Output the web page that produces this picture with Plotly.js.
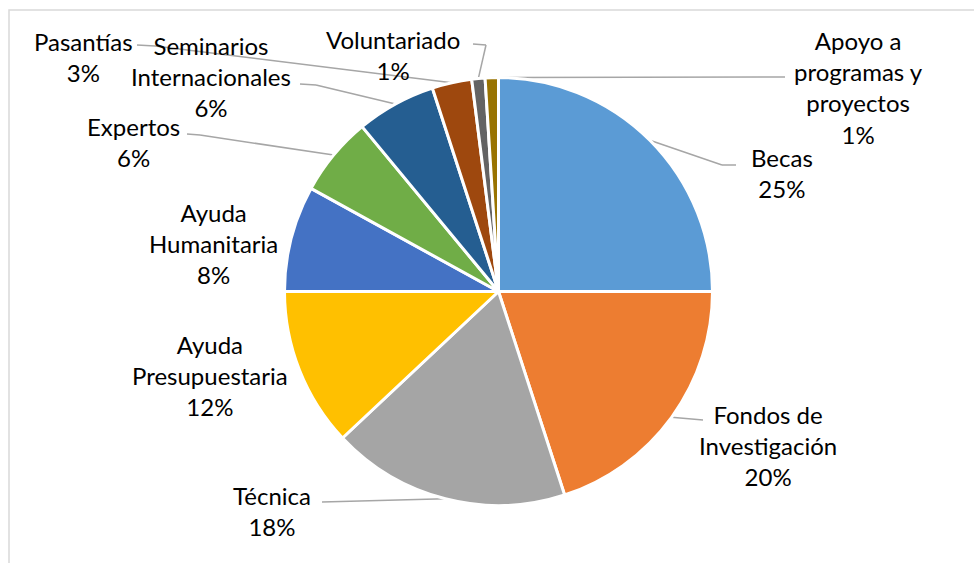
<!DOCTYPE html>
<html>
<head>
<meta charset="utf-8">
<script src="https://cdn.plot.ly/plotly-3.0.1.min.js"></script>
<style>html,body{margin:0;padding:0;background:#fff;}#chart{width:974px;height:563px;}</style>
</head>
<body>
<div id="chart"></div>
<script>
// ---- data ----
const categories = ['Becas','Fondos de Investigación','Técnica','Ayuda Presupuestaria','Ayuda Humanitaria','Expertos','Seminarios Internacionales','Pasantías','Voluntariado','Apoyo a programas y proyectos'];
const values = [25, 20, 18, 12, 8, 6, 6, 3, 1, 1];
const labelText = ['Becas','Fondos de<br>Investigación','Técnica','Ayuda<br>Presupuestaria','Ayuda<br>Humanitaria','Expertos','Seminarios<br>Internacionales','Pasantías','Voluntariado','Apoyo a<br>programas y<br>proyectos'];
const colors = ['#5B9BD5','#ED7D31','#A5A5A5','#FFC000','#4472C4','#70AD47','#255E91','#9E480E','#636363','#997300'];

// ---- layout (pixels) ----
const W = 974, H = 563;
const CX = 498.5, CY = 291.5, R = 214;
const labelPos = [[782,173],[768,445],[272,511],[210,375],[213,243],[133,142],[211,77],[83,57],[393,55],[858,88]];
// label-side leader points: [start, elbow] or null
const leaderPts = [
  [[736,165],[722,165]],
  [[703,420]],
  [[322,502]],
  null,
  null,
  [[187,134],[200,135]],
  [[300,84],[316,85]],
  [[137,45],[155,46]],
  [[473,44],[486,45]],
  [[785,77]]
];

const px = x => x / W;
const py = y => 1 - y / H;

const total = values.reduce((a,b)=>a+b,0);
let cum = 0;
const shapes = [];
const annotations = [];
values.forEach((v,i)=>{
  const mid = (cum + v/2) / total * 2 * Math.PI;
  cum += v;
  const ex = CX + R * Math.sin(mid);
  const ey = CY - R * Math.cos(mid);
  const pts = leaderPts[i];
  if (pts) {
    const all = pts.concat([[ex,ey]]);
    for (let k=0;k<all.length-1;k++){
      shapes.push({type:'line', xref:'paper', yref:'paper',
        x0:px(all[k][0]), y0:py(all[k][1]), x1:px(all[k+1][0]), y1:py(all[k+1][1]),
        line:{color:'#A6A6A6', width:1.5}, layer:'below'});
    }
  }
  const pct = Math.round(v / total * 100) + '%';
  annotations.push({xref:'paper', yref:'paper', x:px(labelPos[i][0]), y:py(labelPos[i][1]),
    xanchor:'center', yanchor:'middle', showarrow:false, align:'center',
    text: labelText[i] + '<br>' + pct,
    font:{family:'Lato, Calibri, sans-serif', size:24, color:'#000'}});
});

// chart border
shapes.push({type:'rect', xref:'paper', yref:'paper', x0:px(9), y0:-0.05, x1:1.05, y1:py(10),
  line:{color:'#D9D9D9', width:1.5}, fillcolor:'rgba(0,0,0,0)', layer:'below'});

const trace = {
  type:'pie', labels:categories, values:values, sort:false, direction:'clockwise', rotation:0,
  marker:{colors:colors, line:{color:'#ffffff', width:3}},
  textinfo:'none', hoverinfo:'label+percent', showlegend:false,
  domain:{x:[px(CX-R), px(CX+R)], y:[py(CY+R), py(CY-R)]}
};

Plotly.newPlot('chart', [trace], {
  width:W, height:H, margin:{l:0,r:0,t:0,b:0},
  paper_bgcolor:'#fff', showlegend:false,
  shapes:shapes, annotations:annotations
}, {displayModeBar:false, staticPlot:true});
</script>
</body>
</html>
